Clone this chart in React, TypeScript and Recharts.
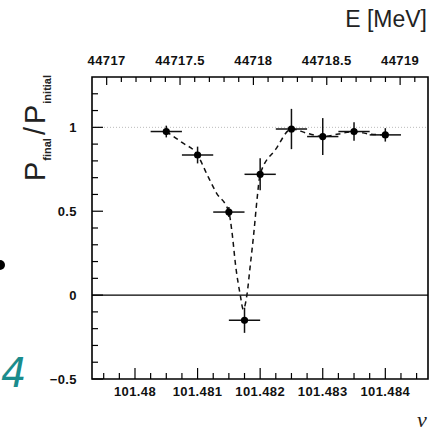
import {
  ComposedChart,
  ErrorBar,
  Line,
  ReferenceArea,
  ReferenceLine,
  Scatter,
  XAxis,
  YAxis,
} from "recharts";

// measured points (spin tune nu vs polarization ratio)
const nuValues = [101.4805, 101.481, 101.4815, 101.48175, 101.482, 101.4825, 101.483, 101.4835, 101.484];
const ratioValues = [0.975, 0.835, 0.495, -0.15, 0.72, 0.99, 0.945, 0.975, 0.955];
const ratioErrors = [0.035, 0.05, 0.03, 0.075, 0.095, 0.12, 0.11, 0.055, 0.04];
const nuErrors = [0.00025, 0.00025, 0.00025, 0.00025, 0.00025, 0.00025, 0.00025, 0.00025, 0.00025];

// dashed fit curve
const fitNu = [
  101.4805, 101.48075, 101.481, 101.48115, 101.4813, 101.4815, 101.48155, 101.48161, 101.48168,
  101.48173, 101.48179, 101.48184, 101.4819, 101.48195, 101.482, 101.48225, 101.4825, 101.48275,
  101.483, 101.48325, 101.4835, 101.48375, 101.484,
];
const fitRatio = [
  0.975, 0.91, 0.835, 0.72, 0.61, 0.495, 0.375, 0.17, 0.005, -0.085, 0.005, 0.17, 0.375, 0.57,
  0.72, 0.87, 0.99, 0.965, 0.945, 0.96, 0.975, 0.96, 0.955,
];

const nuDomain = [101.479313, 101.484682];
const energyDomain = [44716.9, 44719.19];
const ratioDomain = [-0.5, 1.3];

const nuMajor = [101.48, 101.481, 101.482, 101.483, 101.484];
const energyMajor = [44717, 44717.5, 44718, 44718.5, 44719];
const ratioMajor = [-0.5, 0, 0.5, 1];
const ratioLabels = ["\u22120.5", "0", "0.5", "1"];

const nuTicks = Array.from({ length: 21 }, (_, i) => Number((101.4795 + i * 0.00025).toFixed(5)));
const energyTicks = Array.from({ length: 22 }, (_, i) => Number((44717 + i * 0.1).toFixed(1)));
const ratioTicks = Array.from({ length: 18 }, (_, i) => Number((-0.5 + i * 0.1).toFixed(1)));

const points = nuValues.map((nu, i) => ({
  nu,
  p: ratioValues[i],
  nuErr: nuErrors[i],
  pErr: ratioErrors[i],
}));
const fit = fitNu.map((nu, i) => ({ nu, p: fitRatio[i] }));
// only here so the top energy axis gets drawn
const energyAnchor = energyMajor.map((e) => ({ e, p: 1 }));

const tickFont = {
  fontFamily: "'Liberation Sans', Arial, sans-serif",
  fontWeight: 700,
  fontSize: 13,
  letterSpacing: 0.4,
  fill: "#111",
};

const isMajor = (list: number[], v: number) => list.some((m) => Math.abs(m - v) < 1e-7);

function BottomTick({ x, y, payload }: any) {
  const major = isMajor(nuMajor, payload.value);
  return (
    <g>
      <line x1={x} x2={x} y1={y} y2={y - (major ? 11 : 6)} stroke="#000" strokeWidth={1.2} />
      {major && (
        <text x={x} y={y + 17} textAnchor="middle" {...tickFont}>
          {String(Number(payload.value.toFixed(3)))}
        </text>
      )}
    </g>
  );
}

function TopTick({ x, y, payload }: any) {
  const major = isMajor(energyMajor, payload.value);
  return (
    <g>
      <line x1={x} x2={x} y1={y} y2={y + (major ? 8 : 5)} stroke="#000" strokeWidth={1.2} />
      {major && (
        <text x={x} y={y - 12} textAnchor="middle" {...tickFont}>
          {String(payload.value)}
        </text>
      )}
    </g>
  );
}

function LeftTick({ x, y, payload }: any) {
  const idx = ratioMajor.findIndex((m) => Math.abs(m - payload.value) < 1e-7);
  const major = idx >= 0;
  return (
    <g>
      <line x1={x} x2={x + (major ? 11 : 6)} y1={y} y2={y} stroke="#000" strokeWidth={1.2} />
      {major && (
        <text x={x - 15} y={y + 4.5} textAnchor="end" {...tickFont}>
          {ratioLabels[idx]}
        </text>
      )}
    </g>
  );
}

const Dot = (props: any) => <circle cx={props.cx} cy={props.cy} r={3.6} fill="#000" />;
const NoShape = () => <g />;

export default function App() {
  return (
    <div style={{ position: "absolute", left: 0, top: 0, width: 438, height: 434, background: "#fff" }}>
      <ComposedChart width={438} height={434} margin={{ top: 47, right: 10, bottom: 25, left: 0 }}>
        <XAxis
          xAxisId="b"
          dataKey="nu"
          type="number"
          orientation="bottom"
          domain={nuDomain}
          allowDataOverflow
          ticks={nuTicks}
          interval={0}
          tickSize={0}
          tickMargin={0}
          tickLine={false}
          axisLine={false}
          tick={<BottomTick />}
          height={30}
        />
        <XAxis
          xAxisId="t"
          dataKey="e"
          type="number"
          orientation="top"
          domain={energyDomain}
          allowDataOverflow
          ticks={energyTicks}
          interval={0}
          tickSize={0}
          tickMargin={0}
          tickLine={false}
          axisLine={false}
          tick={<TopTick />}
          height={30}
        />
        <YAxis
          yAxisId="l"
          dataKey="p"
          type="number"
          domain={ratioDomain}
          allowDataOverflow
          ticks={ratioTicks}
          interval={0}
          tickSize={0}
          tickMargin={0}
          tickLine={false}
          axisLine={false}
          tick={<LeftTick />}
          width={92}
        />
        <ReferenceLine xAxisId="b" yAxisId="l" y={1} stroke="#bbb" strokeWidth={1} strokeDasharray="1 2" />
        <ReferenceLine xAxisId="b" yAxisId="l" y={0} stroke="#000" strokeWidth={1.4} />
        <ReferenceArea
          xAxisId="b"
          yAxisId="l"
          x1={nuDomain[0]}
          x2={nuDomain[1]}
          y1={ratioDomain[0]}
          y2={ratioDomain[1]}
          fill="none"
          fillOpacity={0}
          stroke="#000"
          strokeWidth={1.6}
        />
        <Scatter
          xAxisId="t"
          yAxisId="l"
          data={energyAnchor}
          dataKey="p"
          shape={<NoShape />}
          legendType="none"
          isAnimationActive={false}
        />
        <Line
          xAxisId="b"
          yAxisId="l"
          data={fit}
          dataKey="p"
          type="monotone"
          stroke="#111"
          strokeWidth={1.5}
          strokeDasharray="5 4"
          dot={false}
          activeDot={false}
          isAnimationActive={false}
        />
        <Scatter xAxisId="b" yAxisId="l" data={points} dataKey="p" shape={<Dot />} isAnimationActive={false}>
          <ErrorBar dataKey="nuErr" direction="x" width={0} stroke="#111" strokeWidth={1.5} isAnimationActive={false} />
          <ErrorBar dataKey="pErr" direction="y" width={0} stroke="#111" strokeWidth={1.5} isAnimationActive={false} />
        </Scatter>
      </ComposedChart>
      <svg
        width={438}
        height={434}
        style={{ position: "absolute", left: 0, top: 0, pointerEvents: "none" }}
      >
        <text
          x={427}
          y={27}
          textAnchor="end"
          fontFamily="'Liberation Sans', Arial, sans-serif"
          fontSize={23}
          fill="#222"
        >
          E [MeV]
        </text>
        <text x={422} y={427} textAnchor="middle" fontFamily="'Liberation Serif', serif" fontStyle="italic" fontSize={22} fill="#222">
          ν
        </text>
        <text
          transform="rotate(-90 45 128)"
          x={45}
          y={128}
          textAnchor="middle"
          fontFamily="'Liberation Sans', Arial, sans-serif"
          fill="#222"
        >
          <tspan fontSize={29}>P</tspan>
          <tspan fontSize={11} fontWeight={700} dy={6} dx={1}>final</tspan>
          <tspan fontSize={29} dy={-6} dx={3}>/</tspan>
          <tspan fontSize={29} dx={3}>P</tspan>
          <tspan fontSize={11} fontWeight={700} dy={6} dx={1}>initial</tspan>
        </text>
        <circle cx={0} cy={265} r={5} fill="#000" />
        <text x={1} y={387} fontFamily="'DejaVu Sans', sans-serif" fontStyle="italic" fontSize={40} fill="#1a8c8c">
          4
        </text>
      </svg>
    </div>
  );
}
